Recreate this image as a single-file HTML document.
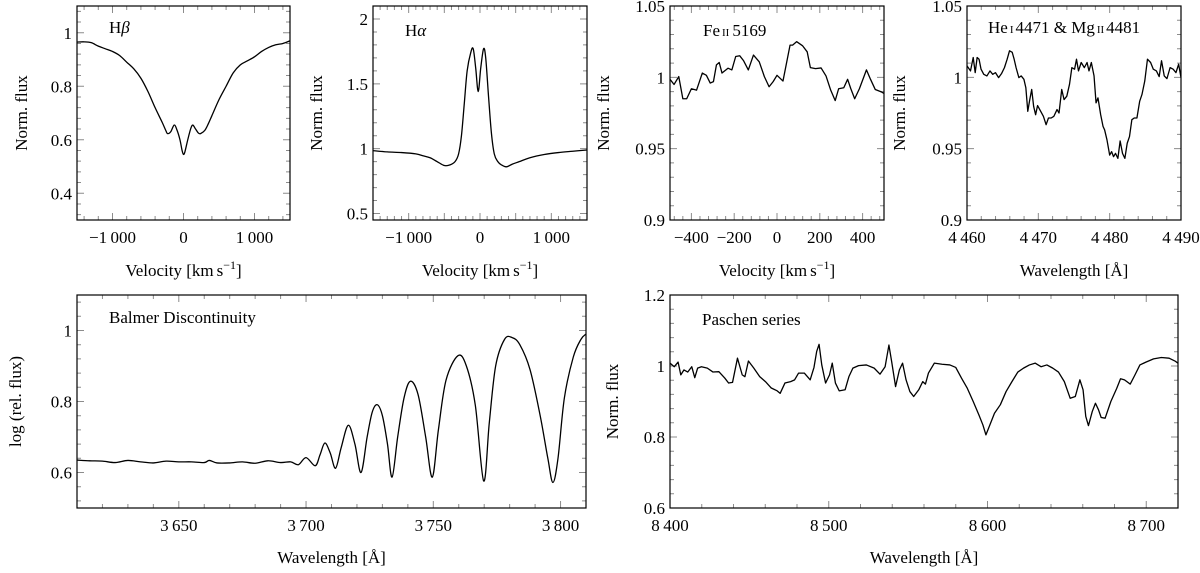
<!DOCTYPE html>
<html><head><meta charset="utf-8">
<style>
html,body{margin:0;padding:0;background:#fff;}
svg{display:block;}
svg text{font-family:"Liberation Serif","DejaVu Serif",serif;}
</style></head>
<body>
<svg id="fig" width="1200" height="573" viewBox="0 0 1200 573" xmlns="http://www.w3.org/2000/svg" font-family="Liberation Serif, serif"></svg>
<script>
// ---------- Hβ ----------
const hbVel=[-1500,-1400,-1300,-1200,-1100,-1000,-900,-800,-700,-600,-500,-400,-300,-250,-225,-180,-130,-90,-50,-20,0,20,60,100,130,170,210,240,300,350,400,500,600,700,800,900,1000,1100,1200,1300,1400,1500];
const hbFlux=[0.965,0.966,0.963,0.95,0.94,0.93,0.915,0.89,0.865,0.83,0.78,0.72,0.665,0.635,0.623,0.63,0.655,0.635,0.6,0.56,0.545,0.555,0.6,0.64,0.655,0.64,0.625,0.623,0.635,0.66,0.69,0.75,0.8,0.85,0.88,0.895,0.91,0.93,0.945,0.955,0.96,0.97];
// ---------- Hα ----------
const haVel=[-1500,-1300,-1100,-900,-800,-700,-600,-500,-420,-350,-300,-260,-220,-180,-130,-95,-60,-25,10,50,80,120,160,200,250,300,370,450,550,700,900,1100,1300,1500];
const haFlux=[0.985,0.975,0.97,0.96,0.945,0.93,0.9,0.87,0.875,0.9,0.96,1.1,1.35,1.6,1.74,1.77,1.62,1.44,1.62,1.77,1.7,1.4,1.12,0.96,0.9,0.875,0.86,0.88,0.9,0.93,0.955,0.97,0.98,0.99];
// ---------- Fe II 5169 ----------
const feVel=[-500,-481,-459,-440,-422,-400,-376,-349,-330,-312,-297,-283,-270,-257,-229,-211,-193,-174,-156,-134,-110,-83,-59,-37,-18,0,28,61,73,92,119,141,156,180,206,229,251,272,288,312,330,345,363,385,418,437,459,486,500];
const feFlux=[0.9986,0.995,1.0005,0.985,0.985,0.992,0.991,1.003,1.0014,0.996,0.997,1.0087,1.0104,1.003,1.0064,1.0052,1.0146,1.0151,1.0116,1.0052,1.0156,1.0109,1.0005,0.9934,0.997,1.0014,0.9974,1.0226,1.0226,1.025,1.0222,1.0179,1.0068,1.0061,1.0066,1.001,0.991,0.9837,0.992,0.9927,0.9986,0.992,0.985,0.992,1.0052,0.9986,0.9915,0.9899,0.9887];
// ---------- He I 4471 & Mg II 4481 ----------
const heWave=[4460.00,4460.49,4460.87,4461.15,4461.42,4461.69,4461.97,4462.35,4462.79,4463.22,4463.61,4463.99,4464.43,4464.86,4465.25,4465.63,4465.96,4466.34,4466.61,4466.88,4467.27,4467.60,4467.98,4468.25,4468.52,4468.80,4469.07,4469.34,4469.62,4469.89,4470.33,4470.71,4471.09,4471.42,4471.80,4472.18,4472.62,4472.90,4473.28,4473.61,4473.99,4474.37,4474.70,4475.08,4475.35,4475.63,4476.01,4476.45,4476.83,4477.10,4477.43,4477.81,4478.09,4478.36,4478.74,4479.07,4479.29,4479.62,4480.00,4480.27,4480.54,4480.82,4481.15,4481.47,4481.80,4482.13,4482.46,4482.78,4483.11,4483.44,4483.82,4484.21,4484.53,4484.92,4485.30,4485.74,4486.12,4486.55,4486.94,4487.27,4487.65,4488.03,4488.47,4488.90,4489.29,4489.67,4490.00];
const heFlux=[1.0080,1.0045,1.0139,1.0033,1.0139,1.0127,1.0057,1.0021,1.0010,1.0045,1.0021,1.0033,0.9998,1.0028,1.0068,1.0127,1.0186,1.0175,1.0127,1.0068,0.9998,1.0010,0.9986,0.9927,0.9762,0.9844,0.9915,0.9797,0.9738,0.9802,0.9762,0.9727,0.9668,0.9715,0.9715,0.9727,0.9774,0.9750,0.9915,0.9844,0.9868,0.9951,1.0068,1.0057,1.0127,1.0045,1.0104,1.0068,1.0104,1.0045,1.0104,1.0010,0.9821,0.9856,0.9738,0.9656,0.9632,0.9562,0.9455,0.9479,0.9444,0.9467,0.9432,0.9554,0.9467,0.9432,0.9538,0.9585,0.9703,0.9715,0.9715,0.9833,0.9880,0.9974,1.0127,1.0104,1.0057,1.0045,1.0005,1.0116,1.0010,0.9991,1.0068,1.0057,1.0033,1.0092,0.9998];
// ---------- Balmer discontinuity ----------
const baWave=[3610,3615,3620,3625,3630,3635,3640,3645,3650,3655,3660,3662,3665,3670,3675,3680,3685,3690,3694,3697,3700,3703.6,3705.5,3707.4,3709.5,3711.6,3713.8,3716.6,3719.2,3721.6,3724,3726,3728,3730,3732,3733.8,3736,3738.5,3741,3744,3747,3749.6,3752,3755,3759.7,3763,3766.5,3769.8,3772,3774.5,3778,3781,3784,3788,3792,3795,3797,3799,3801.5,3805,3808,3810];
const baFlux=[0.635,0.633,0.632,0.628,0.634,0.630,0.627,0.632,0.630,0.630,0.628,0.634,0.627,0.627,0.630,0.626,0.633,0.628,0.630,0.622,0.642,0.619,0.650,0.683,0.655,0.612,0.670,0.733,0.680,0.600,0.700,0.770,0.791,0.760,0.680,0.587,0.700,0.810,0.857,0.820,0.700,0.587,0.720,0.860,0.929,0.900,0.790,0.576,0.740,0.900,0.975,0.980,0.960,0.890,0.760,0.640,0.572,0.640,0.810,0.925,0.975,0.990];
// ---------- Paschen series ----------
const paWave=[8400,8402.7,8405.1,8406.8,8408.8,8411.2,8413.7,8415.6,8417.4,8419.8,8423.5,8427.1,8430.8,8434.5,8436.9,8439.4,8442.5,8445.5,8447.2,8449.4,8452.8,8456.5,8460.1,8463.8,8467.5,8469.4,8472.4,8476,8478.5,8481,8484.6,8488.3,8490.7,8492.4,8493.9,8495.6,8498,8500.5,8502.2,8504.2,8506.6,8510.3,8512.7,8515.2,8518.8,8523.7,8528.6,8532.3,8535.5,8537.9,8539.6,8542.1,8544.5,8546.5,8548.7,8551.1,8553.5,8556.7,8559.2,8560.9,8562.8,8566.5,8571.4,8576.3,8580,8583.6,8587.3,8591,8594.6,8597.1,8599,8600.7,8604.4,8608.1,8611.7,8615.4,8619.1,8622.7,8626.4,8630.1,8633.7,8637.4,8641.1,8644.7,8648.4,8652.1,8655.3,8658.2,8660.2,8661.9,8663.6,8666,8668,8669.9,8671.6,8674.1,8677.7,8681.4,8683.8,8686.3,8689.9,8692.9,8696,8699.8,8704.6,8709.5,8714.4,8718.1,8720];
const paFlux=[1.008,0.998,1.011,0.975,0.989,0.983,0.998,0.967,0.994,0.998,0.994,0.983,0.984,0.966,0.952,0.954,1.022,0.975,0.970,1.014,0.994,0.970,0.956,0.938,0.930,0.923,0.952,0.956,0.961,0.980,0.980,0.961,0.996,1.041,1.061,1.003,0.952,0.975,1.008,0.952,0.930,0.933,0.970,0.994,1.001,1.003,0.994,0.977,0.998,1.059,1.013,0.942,0.989,1.008,0.961,0.928,0.914,0.933,0.956,0.949,0.980,1.008,1.005,1.003,0.996,0.966,0.937,0.900,0.862,0.834,0.806,0.825,0.867,0.891,0.928,0.956,0.983,0.994,1.003,1.008,0.998,1.003,0.994,0.983,0.956,0.909,0.914,0.961,0.933,0.858,0.832,0.872,0.895,0.877,0.855,0.853,0.900,0.937,0.964,0.961,0.949,0.975,1.003,1.011,1.020,1.024,1.022,1.014,1.008];

// tick label arrays
const hbXTicks=[-1000,0,1000], hbYTicks=[0.4,0.6,0.8,1];
const haXTicks=[-1000,0,1000], haYTicks=[0.5,1,1.5,2];
const feXTicks=[-400,-200,0,200,400], feYTicks=[0.9,0.95,1,1.05];
const heXTicks=[4460,4470,4480,4490], heYTicks=[0.9,0.95,1,1.05];
const baXTicks=[3650,3700,3750,3800], baYTicks=[0.6,0.8,1];
const paXTicks=[8400,8500,8600,8700], paYTicks=[0.6,0.8,1,1.2];

const NS="http://www.w3.org/2000/svg";
const SERIF='"Liberation Serif", "DejaVu Serif", serif';
const svg=document.getElementById('fig');
function mk(tag,attrs,parent){const e=document.createElementNS(NS,tag);for(const k in attrs)e.setAttribute(k,attrs[k]);if(tag==='text')e.style.fontFamily=SERIF;(parent||svg).appendChild(e);return e;}
function fmt(v){
  let s=String(Math.abs(v));
  const parts=s.split('.');
  if(parts[0].length>=4) parts[0]=parts[0].replace(/\B(?=(\d{3})+(?!\d))/g,'\u2009');
  s=parts.join('.');
  return (v<0?'\u2212':'')+s;
}
function catmull(pts){
  let d='M'+pts[0][0].toFixed(2)+','+pts[0][1].toFixed(2);
  for(let i=0;i<pts.length-1;i++){
    const p0=pts[Math.max(i-1,0)],p1=pts[i],p2=pts[i+1],p3=pts[Math.min(i+2,pts.length-1)];
    const c1=[p1[0]+(p2[0]-p0[0])/6,p1[1]+(p2[1]-p0[1])/6];
    const c2=[p2[0]-(p3[0]-p1[0])/6,p2[1]-(p3[1]-p1[1])/6];
    d+='C'+c1[0].toFixed(2)+','+c1[1].toFixed(2)+' '+c2[0].toFixed(2)+','+c2[1].toFixed(2)+' '+p2[0].toFixed(2)+','+p2[1].toFixed(2);
  }
  return d;
}
function panel(c){
  const g=mk('g',{});
  
  
  const X=v=>c.x0+(v-c.xmin)/(c.xmax-c.xmin)*(c.x1-c.x0);
  const Y=v=>c.y1-(v-c.ymin)/(c.ymax-c.ymin)*(c.y1-c.y0);
  const clipId='clip-'+c.name;
  const cp=mk('clipPath',{id:clipId},g);
  mk('rect',{x:c.x0,y:c.y0,width:c.x1-c.x0,height:c.y1-c.y0},cp);
  let td='';
  const eps=1e-9;
  const nx=Math.round((c.xmax-c.xmin)/c.xminor)+2;
  const sx=Math.ceil((c.xmin-eps)/c.xminor);
  for(let k=0;k<nx;k++){
    const vv=(sx+k)*c.xminor;
    if(vv>c.xmax+eps) break;
    const major=Math.abs(vv/c.xmajor-Math.round(vv/c.xmajor))<1e-6;
    const L=major?7:4, x=X(vv).toFixed(2);
    td+='M'+x+','+c.y1+'v'+(-L)+'M'+x+','+c.y0+'v'+L;
  }
  const ny=Math.round((c.ymax-c.ymin)/c.yminor)+2;
  const sy=Math.ceil((c.ymin-eps)/c.yminor);
  for(let k=0;k<ny;k++){
    const vv=(sy+k)*c.yminor;
    if(vv>c.ymax+eps) break;
    const major=Math.abs(vv/c.ymajor-Math.round(vv/c.ymajor))<1e-6;
    const L=major?7:4, y=Y(vv).toFixed(2);
    td+='M'+c.x0+','+y+'h'+L+'M'+c.x1+','+y+'h'+(-L);
  }
  const tp=mk('path',{d:td,fill:'none',stroke:'#8c8c8c','stroke-width':1},g);
  
  
  c.xt.forEach(v=>{
    const t=mk('text',{x:X(v),y:c.y1+23,'text-anchor':'middle','font-size':17},g);
    
    
    t.textContent=fmt(v);
  });
  c.yt.forEach(v=>{
    const t=mk('text',{x:c.x0-5,y:Y(v)+6,'text-anchor':'end','font-size':17},g);
    
    
    t.textContent=fmt(v);
  });
  const pts=c.xs.map((v,i)=>[X(v),Y(c.ys[i])]);
  const d=c.smooth?catmull(pts):'M'+pts.map(p=>p[0].toFixed(2)+','+p[1].toFixed(2)).join('L');
  const path=mk('path',{d:d,fill:'none',stroke:'#000','stroke-width':1.3,'stroke-linejoin':'round','clip-path':'url(#'+clipId+')'},g);
  
  
  const fr=mk('rect',{x:c.x0,y:c.y0,width:c.x1-c.x0,height:c.y1-c.y0,fill:'none',stroke:'#000','stroke-width':1.2},g);
  
  
  const tt=mk('text',{x:c.tx,y:c.ty,'font-size':17},g);
  
  
  tt.innerHTML=c.title;
  const xl=mk('text',{x:(c.x0+c.x1)/2,y:c.xly,'text-anchor':'middle','font-size':17},g);
  
  
  xl.innerHTML=c.xlabel;
  const ym=(c.y0+c.y1)/2;
  const yl=mk('text',{x:c.ylx,y:ym,'text-anchor':'middle','font-size':17,transform:'rotate(-90 '+c.ylx+' '+ym+')'},g);
  
  
  yl.textContent=c.ylabel;
}
const vel='Velocity [km<tspan dx="3">s</tspan><tspan dy="-7" font-size="12">\u22121</tspan><tspan dy="7">]</tspan>';
const wav='Wavelength [Å]';
panel({name:'hbeta-panel',x0:77,x1:290,y0:6,y1:220,xmin:-1500,xmax:1500,ymin:0.3,ymax:1.1,xmajor:1000,xminor:200,ymajor:0.2,yminor:0.04,xt:hbXTicks,yt:hbYTicks,xs:hbVel,ys:hbFlux,smooth:true,title:'H<tspan font-style="italic">β</tspan>',tx:109,ty:33,xlabel:vel,xly:276,ylabel:'Norm. flux',ylx:27});
panel({name:'halpha-panel',x0:373,x1:587,y0:6,y1:220,xmin:-1500,xmax:1500,ymin:0.45,ymax:2.1,xmajor:500,xminor:100,ymajor:0.5,yminor:0.1,xt:haXTicks,yt:haYTicks,xs:haVel,ys:haFlux,smooth:true,title:'H<tspan font-style="italic">α</tspan>',tx:405,ty:36,xlabel:vel,xly:276,ylabel:'Norm. flux',ylx:322});
panel({name:'feii-panel',x0:670,x1:884,y0:6,y1:220,xmin:-500,xmax:500,ymin:0.9,ymax:1.05,xmajor:200,xminor:40,ymajor:0.05,yminor:0.01,xt:feXTicks,yt:feYTicks,xs:feVel,ys:feFlux,smooth:false,title:'Fe<tspan font-size="11" dx="2">II</tspan><tspan dx="3">5169</tspan>',tx:703,ty:36,xlabel:vel,xly:276,ylabel:'Norm. flux',ylx:609});
panel({name:'hei-mgii-panel',x0:967,x1:1181,y0:6,y1:220,xmin:4460,xmax:4490,ymin:0.9,ymax:1.05,xmajor:10,xminor:2,ymajor:0.05,yminor:0.01,xt:heXTicks,yt:heYTicks,xs:heWave,ys:heFlux,smooth:false,title:'He<tspan font-size="11" dx="2">I</tspan><tspan dx="2">4471 &amp; Mg</tspan><tspan font-size="11" dx="2">II</tspan><tspan dx="2">4481</tspan>',tx:988,ty:33,xlabel:wav,xly:276,ylabel:'Norm. flux',ylx:905});
panel({name:'balmer-panel',x0:77,x1:586,y0:295,y1:508,xmin:3610,xmax:3810,ymin:0.5,ymax:1.1,xmajor:50,xminor:10,ymajor:0.2,yminor:0.04,xt:baXTicks,yt:baYTicks,xs:baWave,ys:baFlux,smooth:true,title:'Balmer Discontinuity',tx:109,ty:323,xlabel:wav,xly:563,ylabel:'log (rel. flux)',ylx:21});
panel({name:'paschen-panel',x0:670,x1:1178,y0:295,y1:508,xmin:8400,xmax:8720,ymin:0.6,ymax:1.2,xmajor:100,xminor:20,ymajor:0.2,yminor:0.04,xt:paXTicks,yt:paYTicks,xs:paWave,ys:paFlux,smooth:false,title:'Paschen series',tx:702,ty:325,xlabel:wav,xly:563,ylabel:'Norm. flux',ylx:618});
</script>
</body></html>
